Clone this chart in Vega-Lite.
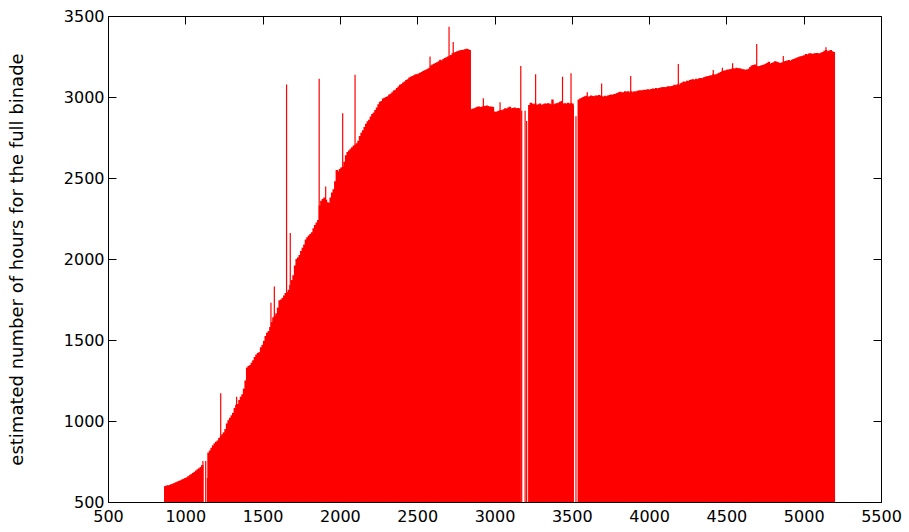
{
  "$schema": "https://vega.github.io/schema/vega-lite/v6.json",
  "width": 773,
  "height": 486,
  "autosize": {"type": "none"},
  "padding": {"left": 108, "top": 16, "right": 28, "bottom": 30},
  "background": "white",
  "config": {
    "view": {"stroke": "black", "strokeWidth": 1},
    "font": "DejaVu Sans",
    "axis": {
      "domain": false,
      "grid": false,
      "tickColor": "black",
      "tickWidth": 1,
      "tickSize": -8,
      "labelColor": "black",
      "labelFont": "DejaVu Sans",
      "labelFontSize": 16,
      "format": "d",
      "titleFont": "DejaVu Sans",
      "titleFontSize": 18,
      "titleFontWeight": "normal",
      "titleColor": "black"
    }
  },
  "datasets": {
    "dense": [
      {"x": 870, "h": 598}, {"x": 880, "h": 602}, {"x": 890, "h": 603}, {"x": 900, "h": 605}, {"x": 910, "h": 610},
      {"x": 920, "h": 613}, {"x": 930, "h": 617}, {"x": 940, "h": 622}, {"x": 950, "h": 626}, {"x": 960, "h": 630},
      {"x": 970, "h": 634}, {"x": 980, "h": 639}, {"x": 990, "h": 643}, {"x": 1000, "h": 648}, {"x": 1010, "h": 652},
      {"x": 1020, "h": 659}, {"x": 1030, "h": 666}, {"x": 1040, "h": 672}, {"x": 1050, "h": 679}, {"x": 1060, "h": 686},
      {"x": 1070, "h": 694}, {"x": 1080, "h": 702}, {"x": 1090, "h": 708}, {"x": 1100, "h": 716}, {"x": 1110, "h": 728},
      {"x": 1150, "h": 805}, {"x": 1160, "h": 818}, {"x": 1170, "h": 835}, {"x": 1180, "h": 850}, {"x": 1190, "h": 862},
      {"x": 1200, "h": 872}, {"x": 1210, "h": 880}, {"x": 1220, "h": 895}, {"x": 1230, "h": 905}, {"x": 1240, "h": 918},
      {"x": 1250, "h": 930}, {"x": 1260, "h": 950}, {"x": 1270, "h": 985}, {"x": 1280, "h": 1005}, {"x": 1290, "h": 1020},
      {"x": 1300, "h": 1035}, {"x": 1310, "h": 1050}, {"x": 1320, "h": 1080}, {"x": 1330, "h": 1100}, {"x": 1340, "h": 1105},
      {"x": 1350, "h": 1130}, {"x": 1360, "h": 1150}, {"x": 1370, "h": 1165}, {"x": 1380, "h": 1200}, {"x": 1390, "h": 1250},
      {"x": 1400, "h": 1330}, {"x": 1410, "h": 1340}, {"x": 1420, "h": 1345}, {"x": 1430, "h": 1360}, {"x": 1440, "h": 1375},
      {"x": 1450, "h": 1395}, {"x": 1460, "h": 1410}, {"x": 1470, "h": 1420}, {"x": 1480, "h": 1425}, {"x": 1490, "h": 1455},
      {"x": 1500, "h": 1470}, {"x": 1510, "h": 1495}, {"x": 1520, "h": 1525}, {"x": 1530, "h": 1545}, {"x": 1540, "h": 1555},
      {"x": 1550, "h": 1580}, {"x": 1560, "h": 1610}, {"x": 1570, "h": 1640}, {"x": 1580, "h": 1650}, {"x": 1590, "h": 1665},
      {"x": 1600, "h": 1700}, {"x": 1610, "h": 1745}, {"x": 1620, "h": 1750}, {"x": 1630, "h": 1760}, {"x": 1640, "h": 1775},
      {"x": 1650, "h": 1790}, {"x": 1660, "h": 1795}, {"x": 1670, "h": 1810}, {"x": 1680, "h": 1840}, {"x": 1690, "h": 1870},
      {"x": 1700, "h": 1900}, {"x": 1710, "h": 1960}, {"x": 1720, "h": 2000}, {"x": 1730, "h": 2010}, {"x": 1740, "h": 2025},
      {"x": 1750, "h": 2050}, {"x": 1760, "h": 2070}, {"x": 1770, "h": 2090}, {"x": 1780, "h": 2120}, {"x": 1790, "h": 2135},
      {"x": 1800, "h": 2145}, {"x": 1810, "h": 2155}, {"x": 1820, "h": 2165}, {"x": 1830, "h": 2190}, {"x": 1840, "h": 2210},
      {"x": 1850, "h": 2225}, {"x": 1860, "h": 2240}, {"x": 1870, "h": 2330}, {"x": 1880, "h": 2360}, {"x": 1890, "h": 2370},
      {"x": 1900, "h": 2380}, {"x": 1910, "h": 2365}, {"x": 1920, "h": 2350}, {"x": 1930, "h": 2345}, {"x": 1940, "h": 2380},
      {"x": 1950, "h": 2410}, {"x": 1960, "h": 2430}, {"x": 1970, "h": 2480}, {"x": 1980, "h": 2550}, {"x": 1990, "h": 2540},
      {"x": 2000, "h": 2555}, {"x": 2010, "h": 2565}, {"x": 2020, "h": 2570}, {"x": 2030, "h": 2600}, {"x": 2040, "h": 2640},
      {"x": 2050, "h": 2660}, {"x": 2060, "h": 2670}, {"x": 2070, "h": 2680}, {"x": 2080, "h": 2690}, {"x": 2090, "h": 2700},
      {"x": 2100, "h": 2705}, {"x": 2110, "h": 2715}, {"x": 2120, "h": 2730}, {"x": 2130, "h": 2760}, {"x": 2140, "h": 2780},
      {"x": 2150, "h": 2795}, {"x": 2160, "h": 2815}, {"x": 2170, "h": 2835}, {"x": 2180, "h": 2850}, {"x": 2190, "h": 2860},
      {"x": 2200, "h": 2880}, {"x": 2210, "h": 2895}, {"x": 2220, "h": 2905}, {"x": 2230, "h": 2920}, {"x": 2240, "h": 2935},
      {"x": 2250, "h": 2955}, {"x": 2260, "h": 2970}, {"x": 2270, "h": 2975}, {"x": 2280, "h": 2990}, {"x": 2290, "h": 2995},
      {"x": 2300, "h": 3000}, {"x": 2310, "h": 3005}, {"x": 2320, "h": 3015}, {"x": 2330, "h": 3020}, {"x": 2340, "h": 3030},
      {"x": 2350, "h": 3040}, {"x": 2360, "h": 3045}, {"x": 2370, "h": 3055}, {"x": 2380, "h": 3065}, {"x": 2390, "h": 3075},
      {"x": 2400, "h": 3080}, {"x": 2410, "h": 3090}, {"x": 2420, "h": 3095}, {"x": 2430, "h": 3105}, {"x": 2440, "h": 3110},
      {"x": 2450, "h": 3120}, {"x": 2460, "h": 3125}, {"x": 2470, "h": 3130}, {"x": 2480, "h": 3135}, {"x": 2490, "h": 3140},
      {"x": 2500, "h": 3140}, {"x": 2510, "h": 3145}, {"x": 2520, "h": 3150}, {"x": 2530, "h": 3155}, {"x": 2540, "h": 3160},
      {"x": 2550, "h": 3165}, {"x": 2560, "h": 3170}, {"x": 2570, "h": 3175}, {"x": 2580, "h": 3180}, {"x": 2590, "h": 3195},
      {"x": 2600, "h": 3200}, {"x": 2610, "h": 3205}, {"x": 2620, "h": 3210}, {"x": 2630, "h": 3215}, {"x": 2640, "h": 3220},
      {"x": 2650, "h": 3230}, {"x": 2660, "h": 3225}, {"x": 2670, "h": 3235}, {"x": 2680, "h": 3240}, {"x": 2690, "h": 3245},
      {"x": 2700, "h": 3250}, {"x": 2710, "h": 3255}, {"x": 2720, "h": 3260}, {"x": 2730, "h": 3270}, {"x": 2740, "h": 3275},
      {"x": 2750, "h": 3278}, {"x": 2760, "h": 3282}, {"x": 2770, "h": 3285}, {"x": 2780, "h": 3288}, {"x": 2790, "h": 3290},
      {"x": 2800, "h": 3292}, {"x": 2810, "h": 3295}, {"x": 2820, "h": 3298}, {"x": 2830, "h": 3295}, {"x": 2840, "h": 3290},
      {"x": 2850, "h": 2925}, {"x": 2860, "h": 2928}, {"x": 2870, "h": 2930}, {"x": 2880, "h": 2935}, {"x": 2890, "h": 2940},
      {"x": 2900, "h": 2942}, {"x": 2910, "h": 2938}, {"x": 2920, "h": 2940}, {"x": 2930, "h": 2945}, {"x": 2940, "h": 2945},
      {"x": 2950, "h": 2948}, {"x": 2960, "h": 2945}, {"x": 2970, "h": 2940}, {"x": 2980, "h": 2942}, {"x": 2990, "h": 2938},
      {"x": 3000, "h": 2910}, {"x": 3010, "h": 2908}, {"x": 3020, "h": 2912}, {"x": 3030, "h": 2915}, {"x": 3040, "h": 2920},
      {"x": 3050, "h": 2918}, {"x": 3060, "h": 2925}, {"x": 3070, "h": 2930}, {"x": 3080, "h": 2928}, {"x": 3090, "h": 2935},
      {"x": 3100, "h": 2940}, {"x": 3110, "h": 2930}, {"x": 3120, "h": 2932}, {"x": 3130, "h": 2935}, {"x": 3140, "h": 2930},
      {"x": 3150, "h": 2932}, {"x": 3160, "h": 2930},
      {"x": 3225, "h": 2950}, {"x": 3235, "h": 2965}, {"x": 3245, "h": 2960}, {"x": 3255, "h": 2955}, {"x": 3265, "h": 2960},
      {"x": 3275, "h": 2950}, {"x": 3285, "h": 2955}, {"x": 3295, "h": 2960}, {"x": 3305, "h": 2950}, {"x": 3315, "h": 2955},
      {"x": 3325, "h": 2960}, {"x": 3335, "h": 2958}, {"x": 3345, "h": 2962}, {"x": 3355, "h": 2960}, {"x": 3365, "h": 2955},
      {"x": 3375, "h": 2985}, {"x": 3385, "h": 2955}, {"x": 3395, "h": 2960}, {"x": 3405, "h": 2962}, {"x": 3415, "h": 2965},
      {"x": 3425, "h": 2970}, {"x": 3435, "h": 2975}, {"x": 3445, "h": 2960}, {"x": 3455, "h": 2962}, {"x": 3465, "h": 2958},
      {"x": 3475, "h": 2965}, {"x": 3485, "h": 2960}, {"x": 3495, "h": 2962}, {"x": 3505, "h": 2960},
      {"x": 3545, "h": 2985}, {"x": 3555, "h": 2990}, {"x": 3565, "h": 2995}, {"x": 3575, "h": 3000}, {"x": 3585, "h": 3005},
      {"x": 3595, "h": 3008}, {"x": 3605, "h": 3000}, {"x": 3615, "h": 3005}, {"x": 3625, "h": 3010}, {"x": 3635, "h": 3006},
      {"x": 3645, "h": 3005}, {"x": 3655, "h": 3010}, {"x": 3665, "h": 3008}, {"x": 3675, "h": 3012}, {"x": 3685, "h": 3010},
      {"x": 3695, "h": 3005}, {"x": 3705, "h": 3002}, {"x": 3715, "h": 3008}, {"x": 3725, "h": 3005}, {"x": 3735, "h": 3010},
      {"x": 3745, "h": 3012}, {"x": 3755, "h": 3015}, {"x": 3765, "h": 3012}, {"x": 3775, "h": 3018}, {"x": 3785, "h": 3020},
      {"x": 3795, "h": 3025}, {"x": 3805, "h": 3030}, {"x": 3815, "h": 3032}, {"x": 3825, "h": 3028}, {"x": 3835, "h": 3030},
      {"x": 3845, "h": 3035}, {"x": 3855, "h": 3032}, {"x": 3865, "h": 3035}, {"x": 3875, "h": 3030}, {"x": 3885, "h": 3035},
      {"x": 3895, "h": 3030}, {"x": 3905, "h": 3035}, {"x": 3915, "h": 3033}, {"x": 3925, "h": 3038}, {"x": 3935, "h": 3040},
      {"x": 3945, "h": 3042}, {"x": 3955, "h": 3040}, {"x": 3965, "h": 3045}, {"x": 3975, "h": 3043}, {"x": 3985, "h": 3046},
      {"x": 3995, "h": 3048}, {"x": 4005, "h": 3045}, {"x": 4015, "h": 3050}, {"x": 4025, "h": 3052}, {"x": 4035, "h": 3050},
      {"x": 4045, "h": 3055}, {"x": 4055, "h": 3053}, {"x": 4065, "h": 3055}, {"x": 4075, "h": 3058}, {"x": 4085, "h": 3060},
      {"x": 4095, "h": 3062}, {"x": 4105, "h": 3060}, {"x": 4115, "h": 3064}, {"x": 4125, "h": 3066}, {"x": 4135, "h": 3065},
      {"x": 4145, "h": 3068}, {"x": 4155, "h": 3070}, {"x": 4165, "h": 3075}, {"x": 4175, "h": 3072}, {"x": 4185, "h": 3078},
      {"x": 4195, "h": 3075}, {"x": 4205, "h": 3085}, {"x": 4215, "h": 3090}, {"x": 4225, "h": 3095}, {"x": 4235, "h": 3092},
      {"x": 4245, "h": 3100}, {"x": 4255, "h": 3098}, {"x": 4265, "h": 3105}, {"x": 4275, "h": 3108}, {"x": 4285, "h": 3110},
      {"x": 4295, "h": 3106}, {"x": 4305, "h": 3112}, {"x": 4315, "h": 3110}, {"x": 4325, "h": 3115}, {"x": 4335, "h": 3118},
      {"x": 4345, "h": 3115}, {"x": 4355, "h": 3122}, {"x": 4365, "h": 3125}, {"x": 4375, "h": 3128}, {"x": 4385, "h": 3130},
      {"x": 4395, "h": 3132}, {"x": 4405, "h": 3135}, {"x": 4415, "h": 3140}, {"x": 4425, "h": 3138}, {"x": 4435, "h": 3140},
      {"x": 4445, "h": 3145}, {"x": 4455, "h": 3150}, {"x": 4465, "h": 3155}, {"x": 4475, "h": 3160}, {"x": 4485, "h": 3162},
      {"x": 4495, "h": 3165}, {"x": 4505, "h": 3168}, {"x": 4515, "h": 3170}, {"x": 4525, "h": 3172}, {"x": 4535, "h": 3175},
      {"x": 4545, "h": 3178}, {"x": 4555, "h": 3175}, {"x": 4565, "h": 3180}, {"x": 4575, "h": 3178}, {"x": 4585, "h": 3177},
      {"x": 4595, "h": 3175}, {"x": 4605, "h": 3172}, {"x": 4615, "h": 3170}, {"x": 4625, "h": 3168}, {"x": 4635, "h": 3170},
      {"x": 4645, "h": 3175}, {"x": 4655, "h": 3185}, {"x": 4665, "h": 3195}, {"x": 4675, "h": 3198}, {"x": 4685, "h": 3200},
      {"x": 4695, "h": 3192}, {"x": 4705, "h": 3190}, {"x": 4715, "h": 3192}, {"x": 4725, "h": 3195}, {"x": 4735, "h": 3198},
      {"x": 4745, "h": 3200}, {"x": 4755, "h": 3205}, {"x": 4765, "h": 3210}, {"x": 4775, "h": 3218}, {"x": 4785, "h": 3205},
      {"x": 4795, "h": 3210}, {"x": 4805, "h": 3215}, {"x": 4815, "h": 3220}, {"x": 4825, "h": 3218}, {"x": 4835, "h": 3215},
      {"x": 4845, "h": 3210}, {"x": 4855, "h": 3212}, {"x": 4865, "h": 3215}, {"x": 4875, "h": 3220}, {"x": 4885, "h": 3222},
      {"x": 4895, "h": 3225}, {"x": 4905, "h": 3228}, {"x": 4915, "h": 3222}, {"x": 4925, "h": 3230}, {"x": 4935, "h": 3235},
      {"x": 4945, "h": 3238}, {"x": 4955, "h": 3242}, {"x": 4965, "h": 3245}, {"x": 4975, "h": 3250}, {"x": 4985, "h": 3252},
      {"x": 4995, "h": 3255}, {"x": 5005, "h": 3258}, {"x": 5015, "h": 3265}, {"x": 5025, "h": 3262}, {"x": 5035, "h": 3268},
      {"x": 5045, "h": 3270}, {"x": 5055, "h": 3265}, {"x": 5065, "h": 3268}, {"x": 5075, "h": 3270}, {"x": 5085, "h": 3272},
      {"x": 5095, "h": 3270}, {"x": 5105, "h": 3268}, {"x": 5115, "h": 3275}, {"x": 5125, "h": 3278}, {"x": 5135, "h": 3285},
      {"x": 5145, "h": 3290}, {"x": 5155, "h": 3282}, {"x": 5165, "h": 3285}, {"x": 5175, "h": 3290}, {"x": 5185, "h": 3282},
      {"x": 5195, "h": 3278}
    ],
    "single": [
      {"x": 1114, "h": 753}, {"x": 1132, "h": 753}, {"x": 1143, "h": 648},
      {"x": 1229, "h": 1171}, {"x": 1332, "h": 1150}, {"x": 1554, "h": 1730}, {"x": 1576, "h": 1830},
      {"x": 1655, "h": 3077}, {"x": 1679, "h": 2160}, {"x": 1866, "h": 3113}, {"x": 1908, "h": 2447},
      {"x": 2018, "h": 2900}, {"x": 2098, "h": 3138}, {"x": 2583, "h": 3250}, {"x": 2706, "h": 3434},
      {"x": 2733, "h": 3340}, {"x": 2928, "h": 2992}, {"x": 3036, "h": 2967}, {"x": 3170, "h": 3191},
      {"x": 3176, "h": 2915}, {"x": 3198, "h": 2915}, {"x": 3208, "h": 2852},
      {"x": 3266, "h": 3140}, {"x": 3440, "h": 3125}, {"x": 3495, "h": 3146},
      {"x": 3510, "h": 2948}, {"x": 3527, "h": 2881},
      {"x": 3600, "h": 3030}, {"x": 3693, "h": 3084}, {"x": 3881, "h": 3130}, {"x": 4189, "h": 3204},
      {"x": 4415, "h": 3167}, {"x": 4474, "h": 3180}, {"x": 4540, "h": 3208}, {"x": 4696, "h": 3327},
      {"x": 4868, "h": 3253}, {"x": 5144, "h": 3307}
    ]
  },
  "layer": [
    {
      "data": {"name": "dense"},
      "mark": {"type": "rule", "color": "#ff0000", "strokeWidth": 2.4},
      "encoding": {
        "x": {
          "field": "x", "type": "quantitative",
          "scale": {"domain": [500, 5500], "nice": false, "zero": false},
          "axis": {"orient": "bottom", "values": [500, 1000, 1500, 2000, 2500, 3000, 3500, 4000, 4500, 5000, 5500], "labelPadding": 14, "title": null, "labelFlush": false}
        },
        "y": {
          "field": "h", "type": "quantitative",
          "scale": {"domain": [500, 3500], "nice": false, "zero": false},
          "axis": {"orient": "left", "values": [500, 1000, 1500, 2000, 2500, 3000, 3500], "labelPadding": 12, "labelFlush": false,
                   "title": "estimated number of hours for the full binade", "titleX": -91, "titleY": 243, "titleBaseline": "middle", "titleAngle": -90}
        },
        "y2": {"datum": 500}
      }
    },
    {
      "data": {"name": "single"},
      "mark": {"type": "rule", "color": "#ff0000", "strokeWidth": 1.2},
      "encoding": {
        "x": {
          "field": "x", "type": "quantitative",
          "axis": {"orient": "top", "values": [500, 1000, 1500, 2000, 2500, 3000, 3500, 4000, 4500, 5000, 5500], "labels": false, "title": null}
        },
        "y": {
          "field": "h", "type": "quantitative",
          "axis": {"orient": "right", "values": [500, 1000, 1500, 2000, 2500, 3000, 3500], "labels": false, "title": null}
        },
        "y2": {"datum": 500}
      }
    }
  ],
  "resolve": {"axis": {"x": "independent", "y": "independent"}}
}
